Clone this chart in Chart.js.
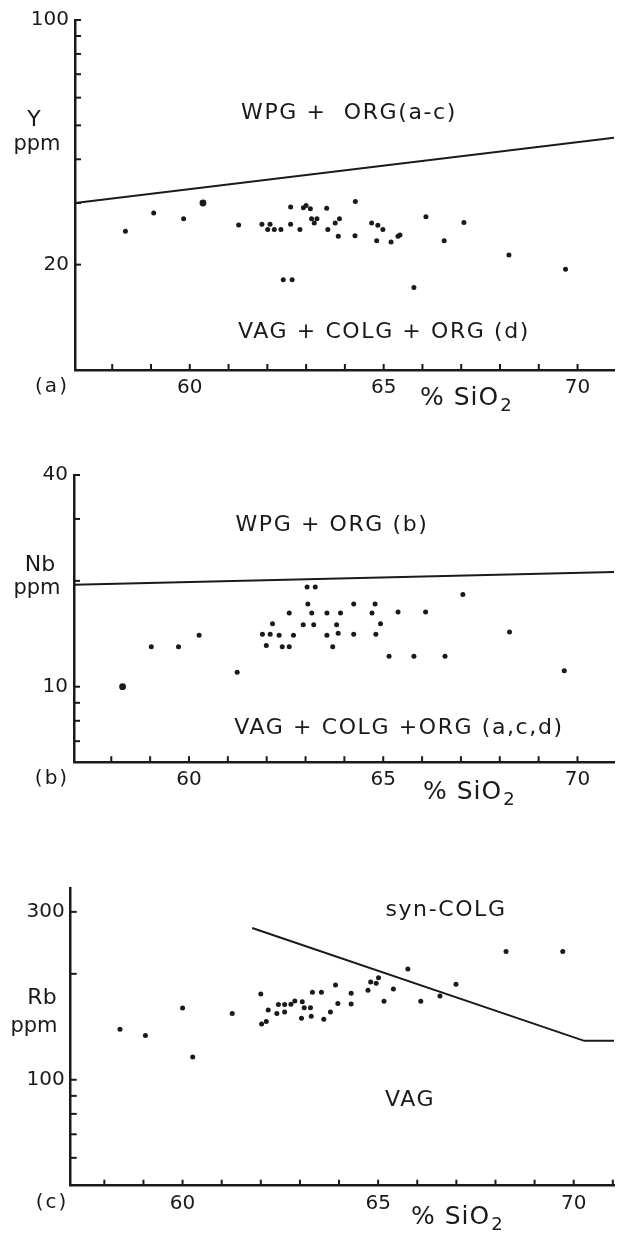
<!DOCTYPE html>
<html><head><meta charset="utf-8">
<script src="https://cdn.jsdelivr.net/npm/chart.js@4.4.1/dist/chart.umd.min.js"></script>
<style>
html,body{margin:0;padding:0;background:#fff;}
#wrap{position:relative;width:618px;height:1236px;overflow:hidden;background:#fff;}
canvas{position:absolute;left:0;}
</style></head><body>
<div id="wrap">
<canvas id="ca" width="618" height="412" style="top:0px"></canvas>
<canvas id="cb" width="618" height="400" style="top:412px"></canvas>
<canvas id="cc" width="618" height="424" style="top:812px"></canvas>
</div>
<script>
// ---------- DATA ----------
// x-axis: % SiO2 (shared)
const xLabelVals = [60, 65, 70];
const xTickVals = [58, 59, 60, 61, 62, 63, 64, 65, 66, 67, 68, 69, 70];
const xTickValsC = [58, 59, 60, 61, 62, 63, 64, 65, 66, 67, 68, 69, 70, 71];

// (a) Y ppm vs SiO2
const siO2_a = [58.34, 59.07, 59.84, 61.26, 61.86, 62.07, 62.01, 62.18, 62.35, 62.6, 62.6, 62.84, 62.41, 62.64, 62.93, 63.0, 63.11, 63.14, 63.28, 63.21, 63.53, 63.56, 63.75, 63.86, 63.83, 64.27, 64.26, 64.69, 64.85, 64.98, 64.82, 65.19, 65.37, 65.42, 65.78, 66.09, 66.56, 67.07, 68.23, 69.69];
const y_a = [24.9, 28.1, 27.05, 25.95, 26.1, 26.1, 25.2, 25.2, 25.2, 29.2, 26.1, 25.2, 18.1, 18.1, 29.1, 29.5, 28.9, 27.05, 27.05, 26.3, 29.0, 25.2, 26.3, 27.05, 24.1, 30.3, 24.2, 26.3, 25.9, 25.2, 23.4, 23.2, 24.1, 24.3, 17.2, 27.4, 23.4, 26.4, 21.3, 19.4];
const siO2_a_large = [60.34];
const y_a_large = [30.0];
const boundary_a_x = [57.04, 70.94];
const boundary_a_y = [30.0, 46.1];
const yTicks_a = [100, 90, 80, 70, 60, 50, 40, 30, 20];
const yLabels_a = [100, 20];

// (b) Nb ppm vs SiO2
const siO2_b = [59.03, 59.73, 60.26, 61.24, 61.89, 62.09, 61.99, 62.15, 62.32, 62.4, 62.58, 62.58, 62.69, 62.94, 63.04, 63.25, 63.06, 63.16, 63.21, 63.55, 63.55, 63.7, 63.8, 63.84, 63.9, 64.24, 64.24, 64.71, 64.79, 64.81, 64.93, 65.15, 65.38, 65.79, 66.09, 66.59, 67.05, 68.25, 69.66];
const nb_b = [13.0, 13.0, 14.0, 11.0, 14.1, 14.1, 13.1, 15.1, 14.0, 13.0, 13.0, 16.2, 14.0, 15.0, 19.2, 19.2, 17.2, 16.2, 15.0, 16.2, 14.0, 13.0, 15.0, 14.2, 16.2, 17.2, 14.1, 16.2, 17.2, 14.1, 15.1, 12.2, 16.3, 12.2, 16.3, 12.2, 18.3, 14.3, 11.1];
const siO2_b_large = [58.29];
const nb_b_large = [10.0];
const boundary_b_x = [57.04, 70.94];
const boundary_b_y = [19.5, 21.2];
const yTicks_b = [40, 30, 20, 10, 9, 8, 7];
const yLabels_b = [40, 10];

// (c) Rb ppm vs SiO2
const siO2_c = [58.40, 59.05, 60.0, 60.26, 61.27, 62.0, 62.02, 62.14, 62.19, 62.41, 62.61, 62.45, 62.61, 62.77, 62.87, 63.06, 63.11, 63.27, 63.04, 63.29, 63.32, 63.55, 63.61, 63.78, 63.91, 63.97, 64.31, 64.31, 64.74, 64.81, 64.95, 65.01, 65.15, 65.39, 65.76, 66.09, 66.58, 66.99, 68.27, 69.72];
const rb_c = [139.2, 133.6, 160, 116, 154.2, 175.3, 144.1, 146.3, 157.9, 154.2, 155.9, 163.5, 163.5, 163.9, 167.5, 166.7, 160.3, 160.3, 149.5, 151.5, 177.3, 177.3, 148.6, 155.9, 185.9, 164.6, 176.1, 164.2, 179.6, 189.7, 187.9, 195, 167.1, 181.1, 206.4, 167.1, 173, 186.7, 231.6, 231.6];
const boundary_c_x = [61.78, 70.27, 71.03];
const boundary_c_y = [270, 129, 129];
const yTicks_c = [300, 200, 100, 90, 80, 70, 60];
const yLabels_c = [300, 100];

// ---------- RENDERING ----------
const INK = '#1a1a1a';
const FONT = "'DejaVu Sans', sans-serif";
Chart.defaults.font.family = FONT;
Chart.defaults.color = INK;

const zip = (xs, ys) => xs.map((x, i) => ({x, y: ys[i]}));

const deco = {
  id: 'deco',
  afterDraw(chart, args, o) {
    const ctx = chart.ctx, xs = chart.scales.x, ys = chart.scales.y, ca = chart.chartArea;
    ctx.save();
    ctx.strokeStyle = INK; ctx.lineWidth = 2;
    o.xTicks.forEach(v => {
      const px = xs.getPixelForValue(v);
      ctx.beginPath(); ctx.moveTo(px, ca.bottom); ctx.lineTo(px, ca.bottom - 6); ctx.stroke();
    });
    o.yTicks.forEach(v => {
      const py = ys.getPixelForValue(v);
      ctx.beginPath(); ctx.moveTo(ca.left, py); ctx.lineTo(ca.left + 6, py); ctx.stroke();
    });
    ctx.fillStyle = INK;
    ctx.textBaseline = 'middle';
    ctx.textAlign = 'center';
    // axis title
    ctx.font = '22px ' + FONT;
    ctx.fillText(o.yTitle, o.yTitlePos[0], o.yTitlePos[1]);
    ctx.font = '21px ' + FONT;
    ctx.fillText('ppm', o.ppmPos[0], o.ppmPos[1]);
    // panel letter
    ctx.font = '20px ' + FONT;
    ctx.letterSpacing = '2px';
    ctx.fillText(o.panel, 52, ca.bottom + 17);
    // region labels
    ctx.font = '22px ' + FONT;
    ctx.letterSpacing = '1.6px';
    o.regions.forEach(r => ctx.fillText(r.text, r.x, r.y));
    // % SiO2
    ctx.textAlign = 'left';
    ctx.letterSpacing = '1px';
    ctx.font = '25px ' + FONT;
    const sy = ca.bottom + o.sioDy;
    const sx = o.sioX;
    ctx.fillText('% SiO', sx, sy);
    const w = ctx.measureText('% SiO').width;
    ctx.font = '18px ' + FONT;
    ctx.fillText('2', sx + w + 1, sy + 8);
    ctx.restore();
  }
};

function makeChart(id, cfg) {
  const datasets = [
    { data: zip(cfg.bx, cfg.by), showLine: true, pointRadius: 0, borderColor: INK, borderWidth: 2, fill: false, order: 2 },
    { data: zip(cfg.px, cfg.py), pointRadius: 2.5, pointBackgroundColor: INK, pointBorderWidth: 0, order: 1 }
  ];
  if (cfg.lx) datasets.push({ data: zip(cfg.lx, cfg.ly), pointRadius: 3.4, pointBackgroundColor: INK, pointBorderWidth: 0, order: 1 });
  return new Chart(document.getElementById(id), {
    type: 'scatter',
    data: { datasets },
    plugins: [deco],
    options: {
      responsive: false,
      animation: false,
      events: [],
      layout: { padding: { top: cfg.top, left: 0, right: 0, bottom: 0 } },
      plugins: { legend: { display: false }, tooltip: { enabled: false }, deco: cfg.deco },
      scales: {
        x: {
          type: 'linear', min: cfg.xmin, max: cfg.xmax,
          grid: { display: true, drawOnChartArea: false, drawTicks: false },
          border: { display: true, color: INK, width: 2.5 },
          afterBuildTicks: s => { s.ticks = xLabelVals.map(v => ({ value: v })); },
          ticks: { padding: 6, font: { size: 20 }, color: INK, callback: v => String(v), maxRotation: 0, autoSkip: false },
          afterFit: s => { s.height = cfg.xh; }
        },
        y: {
          type: 'logarithmic', min: cfg.ymin, max: cfg.ymax,
          grid: { display: true, drawOnChartArea: false, drawTicks: false },
          border: { display: true, color: INK, width: 2.5 },
          afterBuildTicks: s => { s.ticks = cfg.yLabels.map(v => ({ value: v })); },
          ticks: { padding: 6, font: { size: 20 }, color: INK, callback: v => String(v), autoSkip: false },
          afterFit: s => { s.width = cfg.yw; }
        }
      }
    }
  });
}

makeChart('ca', {
  px: siO2_a, py: y_a, lx: siO2_a_large, ly: y_a_large, bx: boundary_a_x, by: boundary_a_y,
  xmin: 57.04, xmax: 70.94, ymin: 10, ymax: 100, top: 20, xh: 42, yw: 75, yLabels: yLabels_a,
  deco: { xTicks: xTickVals, yTicks: yTicks_a, yTitle: 'Y', yTitlePos: [34, 120], ppmPos: [37, 145], panel: '(a)',
    regions: [{ text: 'WPG +  ORG(a-c)', x: 349, y: 113 }, { text: 'VAG + COLG + ORG (d)', x: 384, y: 332 }],
    sioX: 420, sioDy: 28 }
});
makeChart('cb', {
  px: siO2_b, py: nb_b, lx: siO2_b_large, ly: nb_b_large, bx: boundary_b_x, by: boundary_b_y,
  xmin: 57.04, xmax: 70.94, ymin: 6.1, ymax: 40, top: 63, xh: 49.8, yw: 74, yLabels: yLabels_b,
  deco: { xTicks: xTickVals, yTicks: yTicks_b, yTitle: 'Nb', yTitlePos: [40, 153], ppmPos: [37, 177], panel: '(b)',
    regions: [{ text: 'WPG + ORG (b)', x: 332, y: 113 }, { text: 'VAG + COLG +ORG (a,c,d)', x: 399, y: 316 }],
    sioX: 423, sioDy: 30 }
});
makeChart('cc', {
  px: siO2_c, py: rb_c, bx: boundary_c_x, by: boundary_c_y,
  xmin: 57.14, xmax: 71.03, ymin: 50, ymax: 350, top: 76.3, xh: 50.3, yw: 70.7, yLabels: yLabels_c,
  deco: { xTicks: xTickValsC, yTicks: yTicks_c, yTitle: 'Rb', yTitlePos: [42, 186], ppmPos: [34, 215], panel: '(c)',
    regions: [{ text: 'syn-COLG', x: 446, y: 98 }, { text: 'VAG', x: 410, y: 288 }],
    sioX: 411, sioDy: 32 }
});
</script>
</body></html>
